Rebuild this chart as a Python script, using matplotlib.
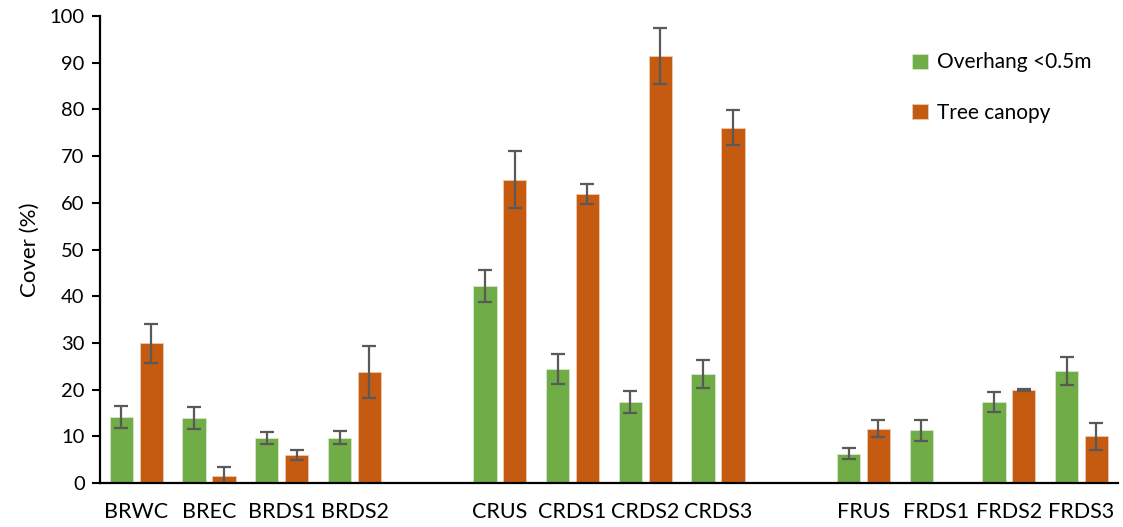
import numpy as np
import matplotlib.pyplot as plt

plt.rcParams['font.family'] = ['Lato', 'DejaVu Sans']

# Sites, with blank slots separating the three reaches
sites = ["BRWC", "BREC", "BRDS1", "BRDS2", "",
         "CRUS", "CRDS1", "CRDS2", "CRDS3", "",
         "FRUS", "FRDS1", "FRDS2", "FRDS3"]

overhang = [14.1, 13.9, 9.6, 9.7, np.nan,
            42.2, 24.4, 17.4, 23.3, np.nan,
            6.3, 11.3, 17.3, 24.0]
overhang_se = [2.4, 2.4, 1.3, 1.4, np.nan,
               3.4, 3.3, 2.4, 3.0, np.nan,
               1.1, 2.2, 2.2, 3.0]

canopy = [29.9, 1.6, 6.0, 23.7, np.nan,
          64.9, 61.9, 91.5, 76.1, np.nan,
          11.6, np.nan, 19.9, 10.0]
canopy_se = [4.2, 1.8, 1.0, 5.6, np.nan,
             6.1, 2.1, 6.0, 3.8, np.nan,
             1.8, np.nan, 0.2, 2.9]

green = "#70AD47"
orange = "#C55A11"
err_kw = dict(ecolor="#595959", elinewidth=1.6, capsize=5, capthick=1.6)

fig = plt.figure(figsize=(11.23, 5.27), dpi=100)
ax = fig.add_axes([0.089, 0.0835, 0.9065, 0.886])

x = np.arange(len(sites))
w = 0.32
gap = 0.045
ax.bar(x - w / 2 - gap, overhang, w, yerr=overhang_se, color=green,
       edgecolor="#d8e8cc", linewidth=0.6, error_kw=err_kw, label="Overhang <0.5m")
ax.bar(x + w / 2 + gap, canopy, w, yerr=canopy_se, color=orange,
       edgecolor="#ecc8b0", linewidth=0.6, error_kw=err_kw, label="Tree canopy")

ax.set_xlim(-0.5, len(sites) - 0.5)
ax.set_ylim(0, 100)
ax.set_yticks(np.arange(0, 101, 10))
ax.set_xticks(x)
ax.set_xticklabels(sites, fontsize=15.5)
ax.tick_params(axis="x", length=0, pad=14)
ax.tick_params(axis="y", length=6, width=1.5, labelsize=14.5, pad=5)
ax.set_ylabel("Cover (%)", fontsize=16, labelpad=7)

for side in ("top", "right"):
    ax.spines[side].set_visible(False)
for side in ("left", "bottom"):
    ax.spines[side].set_linewidth(1.6)

ax.legend(loc="upper left", bbox_to_anchor=(0.79, 0.94), frameon=False,
          fontsize=15, handlelength=0.75, handleheight=0.75, handletextpad=0.45,
          labelspacing=1.45, borderaxespad=0)

fig.savefig("out.png", dpi=100)
